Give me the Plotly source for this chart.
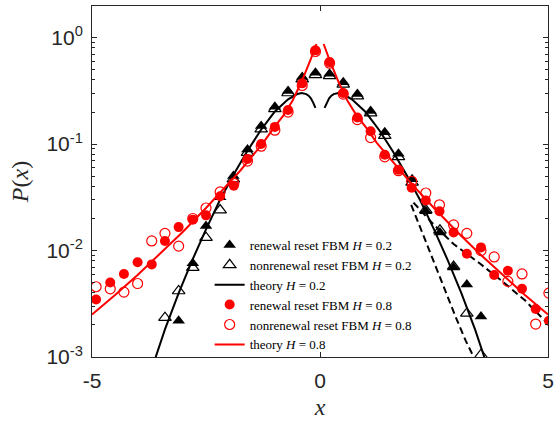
import plotly.graph_objects as go

# ---- measured distributions P(x) ----
# renewal reset FBM, H = 0.2
x_ren_02 = [-3.10, -2.79, -2.50, -2.19, -1.90, -1.59, -1.29, -0.99, -0.70, -0.39, -0.10,
            0.21, 0.51, 0.82, 1.11, 1.42, 1.72, 2.02, 2.32, 2.63, 2.93, 3.22, 3.53]
p_ren_02 = [0.00219, 0.00759, 0.0170, 0.0316, 0.0501, 0.0891, 0.148, 0.224, 0.316, 0.427, 0.468,
            0.457, 0.380, 0.295, 0.204, 0.129, 0.0813, 0.0468, 0.0234, 0.0148, 0.00692, 0.00479, 0.00240]

# nonrenewal reset FBM, H = 0.2
x_non_02 = [-3.40, -3.10, -2.79, -2.50, -2.19, -1.90, -1.59, -1.29, -0.99, -0.70, -0.39, -0.10,
            0.21, 0.51, 0.82, 1.11, 1.42, 1.72, 2.02, 2.32, 2.63, 2.93, 3.22, 3.53]
p_non_02 = [0.00234, 0.00417, 0.00692, 0.0132, 0.0240, 0.0468, 0.0832, 0.138, 0.214, 0.302, 0.407, 0.447,
            0.437, 0.363, 0.282, 0.195, 0.120, 0.0759, 0.0437, 0.0240, 0.0155, 0.00708, 0.00257, 0.00105]

# renewal / nonrenewal reset FBM, H = 0.8 (same bins)
x_08 = [-4.91, -4.60, -4.30, -4.00, -3.69, -3.40, -3.10, -2.79, -2.50, -2.19, -1.89, -1.59,
        -1.29, -0.99, -0.70, -0.39, -0.10, 0.21, 0.51, 0.82, 1.11, 1.42, 1.72, 2.01, 2.32,
        2.62, 2.93, 3.22, 3.53, 3.82, 4.12, 4.43, 4.73, 5.02]
p_ren_08 = [0.00347, 0.00501, 0.00603, 0.00776, 0.00741, 0.0123, 0.0166, 0.0195, 0.0214, 0.0324,
            0.0407, 0.0724, 0.100, 0.145, 0.209, 0.372, 0.759, 0.589, 0.302, 0.178, 0.132, 0.0794,
            0.0575, 0.0389, 0.0295, 0.0234, 0.0148, 0.00933, 0.0107, 0.00589, 0.00646, 0.00437,
            0.00282, 0.00219]
p_non_08 = [0.00457, 0.00437, 0.00407, 0.00490, 0.0123, 0.0145, 0.0110, 0.0200, 0.0251, 0.0355,
            0.0427, 0.0692, 0.0955, 0.135, 0.200, 0.355, 0.741, 0.575, 0.295, 0.170, 0.115, 0.0759,
            0.0562, 0.0447, 0.0347, 0.0269, 0.0174, 0.0145, 0.0100, 0.00871, 0.00513, 0.00603,
            0.00204, 0.00398]

# ---- theory curves (symmetric in x, given for x > 0) ----
x_th_02 = [0.10, 0.15, 0.20, 0.25, 0.30, 0.40, 0.50, 0.70, 1.00, 1.30, 1.60, 1.90, 2.20,
           2.50, 2.80, 3.10, 3.40, 3.62]
p_th_02 = [0.219, 0.245, 0.269, 0.285, 0.295, 0.302, 0.295, 0.263, 0.200, 0.135, 0.0851,
           0.0513, 0.0295, 0.0158, 0.00813, 0.00398, 0.00182, 0.00095]

x_th_08 = [0.08, 0.20, 0.40, 0.60, 0.80, 1.00, 1.25, 1.50, 1.75, 2.00, 2.50, 3.00, 3.50,
           4.00, 4.50, 5.00]
p_th_08 = [0.871, 0.631, 0.389, 0.257, 0.186, 0.145, 0.102, 0.0759, 0.0562, 0.0427, 0.0251,
           0.0151, 0.00933, 0.00589, 0.00380, 0.00251]

# nonrenewal theory tails (x > 2)
x_tail_02 = [2.00, 2.35, 2.70, 3.00, 3.20, 3.37]
p_tail_02 = [0.0269, 0.0112, 0.00479, 0.00224, 0.00141, 0.00100]
x_tail_08 = [2.05, 2.50, 2.93, 3.50, 4.00, 4.50, 4.84, 5.00]
p_tail_08 = [0.0282, 0.0174, 0.0115, 0.00759, 0.00513, 0.00339, 0.00240, 0.00204]

y_tickvals = [1e-3, 1e-2, 1e-1, 1e0]
y_ticktext = ["10<sup>-3</sup>", "10<sup>-2</sup>", "10<sup>-1</sup>", "10<sup>0</sup>"]
x_tickvals = [-5, 0, 5]
x_ticktext = ["-5", "0", "5"]


def mirrored(xs, ps):
    """Full symmetric curve with a break at x = 0."""
    xl = [-v for v in reversed(xs)]
    pl = list(reversed(ps))
    return xl + [None] + list(xs), pl + [None] + list(ps)


BLACK = "#000000"
RED = "#ff0000"
AX = "#262626"
DASH = "7px,4px"

fig = go.Figure()

fig.add_trace(go.Scatter(
    x=x_ren_02, y=p_ren_02, mode="markers", name="renewal reset FBM <i>H</i> = 0.2",
    marker=dict(symbol="triangle-up", size=11, color=BLACK, line=dict(width=0))))
fig.add_trace(go.Scatter(
    x=x_non_02, y=p_non_02, mode="markers", name="nonrenewal reset FBM <i>H</i> = 0.2",
    marker=dict(symbol="triangle-up-open", size=11, color=BLACK, line=dict(width=1.2))))
xt, pt = mirrored(x_th_02, p_th_02)
fig.add_trace(go.Scatter(
    x=xt, y=pt, mode="lines", name="theory <i>H</i> = 0.2",
    line=dict(color=BLACK, width=2)))
fig.add_trace(go.Scatter(
    x=x_tail_02, y=p_tail_02, mode="lines", showlegend=False,
    line=dict(color=BLACK, width=2, dash=DASH)))
fig.add_trace(go.Scatter(
    x=x_tail_08, y=p_tail_08, mode="lines", showlegend=False,
    line=dict(color=BLACK, width=2, dash=DASH)))
fig.add_trace(go.Scatter(
    x=x_08, y=p_ren_08, mode="markers", name="renewal reset FBM <i>H</i> = 0.8",
    marker=dict(symbol="circle", size=10, color=RED, line=dict(width=0))))
fig.add_trace(go.Scatter(
    x=x_08, y=p_non_08, mode="markers", name="nonrenewal reset FBM <i>H</i> = 0.8",
    marker=dict(symbol="circle-open", size=10, color=RED, line=dict(width=1.2))))
xt, pt = mirrored(x_th_08, p_th_08)
fig.add_trace(go.Scatter(
    x=xt, y=pt, mode="lines", name="theory <i>H</i> = 0.8",
    line=dict(color=RED, width=2)))

fig.update_layout(
    width=559, height=423,
    margin=dict(l=92, r=6, t=5, b=66),
    paper_bgcolor="white", plot_bgcolor="white",
    showlegend=True,
    legend=dict(
        x=0.258, y=0.362, xanchor="left", yanchor="top",
        bgcolor="rgba(0,0,0,0)", borderwidth=0,
        font=dict(family="Liberation Serif", size=13, color="black"),
        tracegroupgap=0,
    ),
    xaxis=dict(
        range=[-5, 5], tickmode="array", tickvals=x_tickvals, ticktext=x_ticktext,
        ticks="inside", ticklen=5, tickcolor=AX, showline=True, linecolor=AX,
        linewidth=1, mirror="ticks", showgrid=False, zeroline=False,
        tickfont=dict(family="Liberation Sans", size=21, color=AX),
        ticklabelstandoff=5, ticklabeloverflow="allow",
        title=dict(text="<i>x</i>", font=dict(family="Liberation Serif", size=24, color=AX),
                   standoff=6),
    ),
    yaxis=dict(
        type="log", range=[-3, 0.297], tickmode="array", tickvals=y_tickvals,
        ticktext=y_ticktext, ticks="inside", ticklen=5, tickcolor=AX, showline=True,
        linecolor=AX, linewidth=1, mirror="ticks", showgrid=False, zeroline=False,
        tickfont=dict(family="Liberation Sans", size=21, color=AX),
        ticklabelstandoff=4,
        minor=dict(ticks="inside", ticklen=3, tickcolor=AX, showgrid=False,
                   tickmode="array",
                   tickvals=[m * 10.0 ** e for e in range(-3, 1) for m in range(2, 10)]),
        title=dict(text="<i>P</i>(<i>x</i>)",
                   font=dict(family="Liberation Serif", size=24, color=AX), standoff=10),
    ),
)

fig.write_html("out.html")
